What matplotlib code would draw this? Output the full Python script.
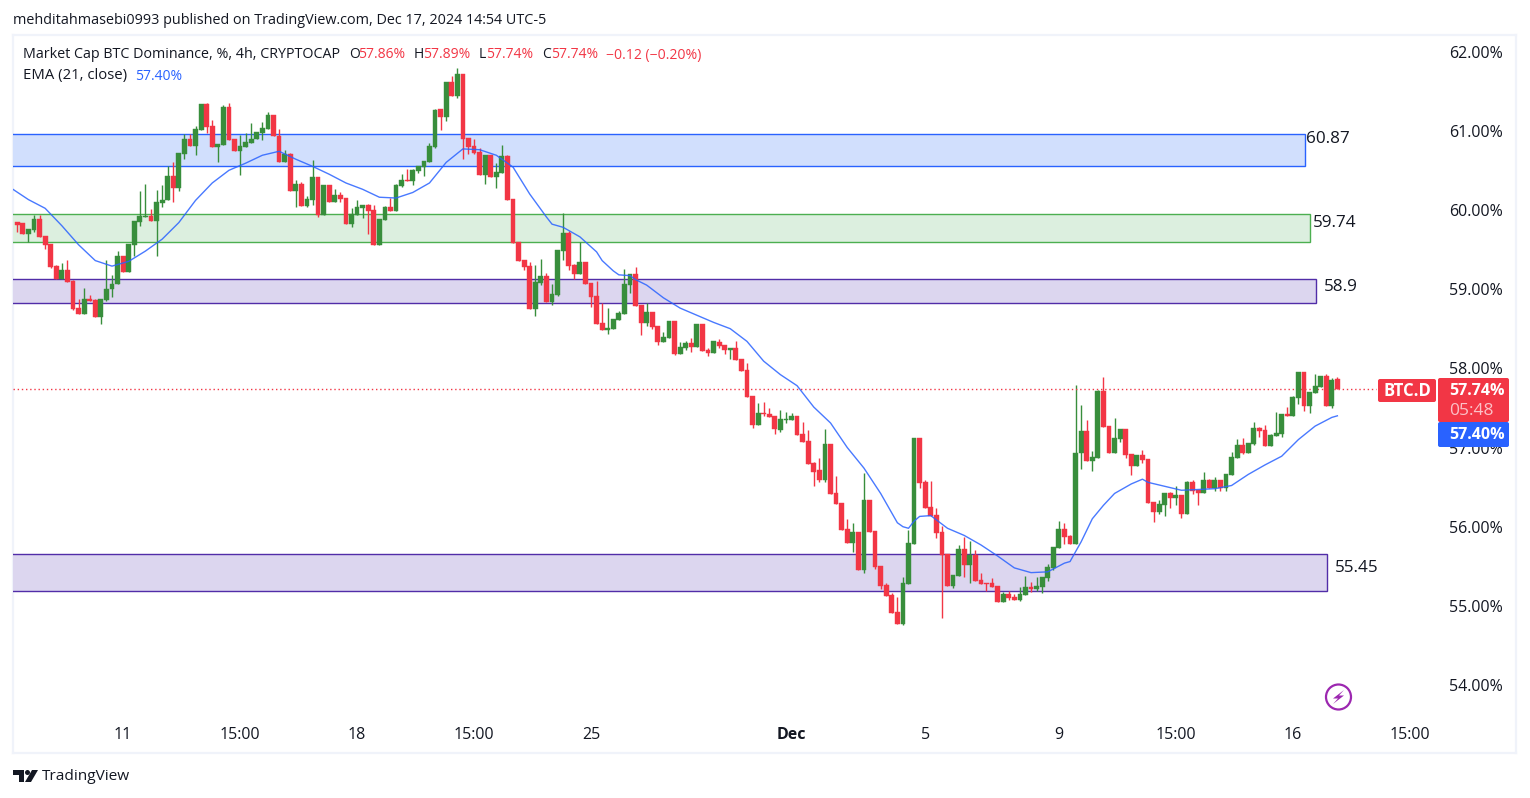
"""Market cap BTC dominance, 4h candles with EMA and zones."""

import numpy as np
import matplotlib

matplotlib.use("Agg")
import matplotlib.pyplot as plt
from matplotlib.patches import Circle, FancyBboxPatch, Polygon, Rectangle
from matplotlib.transforms import Affine2D

opens = [
    59.85, 59.83, 59.70, 59.75, 59.89, 59.67, 59.57, 59.29, 59.13, 59.24,
    59.10, 58.76, 58.69, 58.87, 58.86, 58.65, 58.86, 59.00, 59.06, 59.42,
    59.21, 59.56, 59.85, 59.91, 59.92, 59.86, 60.09, 60.13, 60.43, 60.28,
    60.71, 60.90, 60.81, 61.01, 61.34, 61.06, 60.79, 60.82, 61.30, 60.90,
    60.74, 60.80, 60.85, 60.90, 60.97, 61.02, 61.20, 60.93, 60.61, 60.71,
    60.24, 60.33, 60.05,
    60.13, 60.42, 59.94, 60.31, 60.10, 60.19, 60.15, 59.82, 59.94, 60.02,
    60.06, 60.00, 59.56, 59.87, 60.04, 59.99, 60.30, 60.38, 60.37, 60.49,
    60.54, 60.60, 60.79, 61.27, 61.17, 61.62, 61.44, 61.72, 60.91, 60.81,
    60.73, 60.44, 60.69, 60.42, 60.47, 60.68, 60.14, 59.60, 59.37, 59.29,
    58.75, 59.08, 59.17, 58.84, 58.93, 59.48, 59.71, 59.30, 59.19, 59.34,
    59.08, 58.91,
    58.57, 58.48, 58.50, 58.61, 58.69, 59.05, 59.19, 58.80, 58.57, 58.71,
    58.53, 58.33, 58.38, 58.60, 58.18, 58.26, 58.32, 58.27, 58.56, 58.23,
    58.19, 58.33, 58.29, 58.23, 58.26, 58.12, 57.98, 57.65, 57.28, 57.43,
    57.42, 57.40, 57.22, 57.35, 57.35, 57.40, 57.17, 57.08,
    56.80, 56.72, 56.59, 57.04, 56.43, 56.30, 55.97, 55.79, 55.93, 55.45,
    56.34, 55.95, 55.50, 55.26, 55.14, 54.92, 54.77, 55.28, 55.78, 57.12,
    56.56, 56.25, 56.15, 55.93, 55.66, 55.25, 55.38, 55.72, 55.52, 55.64,
    55.33, 55.29, 55.29, 55.25, 55.05, 55.15, 55.11, 55.07, 55.14, 55.24,
    55.21, 55.24, 55.35, 55.48, 55.73, 55.97, 55.88, 55.78,
    56.93, 57.21, 56.83, 56.87, 57.71, 57.27, 56.93, 57.11, 57.23, 56.92,
    56.77, 56.91, 56.85, 56.31, 56.19, 56.27, 56.43, 56.36, 56.40, 56.16,
    56.57, 56.46, 56.43, 56.59, 56.49, 56.59, 56.49, 56.65, 56.87, 57.03,
    56.93, 57.04, 57.25, 57.22, 57.02, 57.15, 57.17, 57.42, 57.40, 57.63,
    57.95, 57.52, 57.69, 57.76, 57.90, 57.52, 57.86,
]
highs = [
    59.85, 59.83, 59.76, 59.94, 59.93, 59.67, 59.57, 59.30, 59.33, 59.37,
    59.11, 58.87, 59.01, 58.93, 58.88, 58.87, 59.37, 59.18, 59.48, 59.42,
    59.57, 59.86, 60.24, 60.33, 60.01, 60.25, 60.31, 60.55, 60.61, 60.72,
    60.96, 60.96, 61.06, 61.34, 61.35, 61.14, 60.83, 61.33, 61.35, 60.90,
    60.95, 60.97, 61.10, 60.98, 61.11, 61.24, 61.20, 61.02, 60.76, 60.72,
    60.38, 60.35, 60.17,
    60.63, 60.42, 60.31, 60.31, 60.27, 60.23, 60.15, 60.02, 60.13, 60.06,
    60.08, 60.06, 59.89, 60.05, 60.15, 60.33, 60.45, 60.52, 60.52, 60.56,
    60.62, 60.84, 61.27, 61.27, 61.62, 61.69, 61.79, 61.72, 60.91, 60.90,
    60.78, 60.69, 60.69, 60.59, 60.82, 60.69, 60.14, 59.60, 59.37, 59.34,
    59.30, 59.38, 59.20, 59.07, 59.49, 59.96, 59.73, 59.32, 59.60, 59.34,
    59.08, 59.10,
    58.82, 58.76, 58.62, 58.72, 59.25, 59.19, 59.28, 58.80, 58.82, 58.71,
    58.53, 58.46, 58.60, 58.60, 58.33, 58.34, 58.38, 58.56, 58.56, 58.26,
    58.34, 58.37, 58.29, 58.26, 58.34, 58.12, 58.07, 57.65, 57.56, 57.57,
    57.50, 57.40, 57.47, 57.45, 57.43, 57.40, 57.32, 57.22,
    56.82, 56.87, 57.23, 57.04, 56.64, 56.30, 56.10, 56.05, 55.93, 56.68,
    56.34, 55.95, 55.50, 55.29, 55.16, 55.11, 55.37, 55.96, 57.12, 57.12,
    56.59, 56.58, 56.24, 56.01, 55.66, 55.39, 55.77, 55.87, 55.82, 55.71,
    55.42, 55.29, 55.35, 55.25, 55.18, 55.19, 55.15, 55.24, 55.38, 55.30,
    55.37, 55.37, 55.53, 55.74, 56.07, 56.05, 55.90, 57.79,
    57.54, 57.35, 56.96, 57.73, 57.89, 57.27, 57.37, 57.23, 57.23, 56.92,
    56.91, 56.97, 56.85, 56.31, 56.34, 56.43, 56.44, 56.51, 56.40, 56.58,
    56.59, 56.46, 56.69, 56.60, 56.63, 56.59, 56.67, 56.94, 57.11, 57.12,
    57.06, 57.32, 57.26, 57.29, 57.17, 57.45, 57.42, 57.51, 57.65, 57.95,
    57.95, 57.70, 57.93, 57.90, 57.93, 57.88, 57.89,
]
lows = [
    59.72, 59.70, 59.59, 59.72, 59.66, 59.51, 59.27, 59.13, 59.13, 59.09,
    58.74, 58.69, 58.69, 58.85, 58.65, 58.56, 58.85, 58.90, 59.06, 59.21,
    59.21, 59.42, 59.80, 59.91, 59.86, 59.42, 60.04, 60.13, 60.10, 60.24,
    60.64, 60.81, 60.69, 61.01, 60.97, 60.79, 60.61, 60.82, 60.88, 60.74,
    60.44, 60.80, 60.85, 60.90, 60.88, 61.02, 60.93, 60.61, 60.61, 60.24,
    60.04, 60.05, 60.04,
    60.06, 59.91, 59.94, 60.10, 60.10, 60.10, 59.82, 59.79, 59.94, 59.90,
    59.70, 59.56, 59.56, 59.87, 59.99, 59.99, 60.29, 60.37, 60.31, 60.47,
    60.43, 60.60, 60.78, 61.01, 61.12, 61.44, 61.41, 60.64, 60.71, 60.71,
    60.44, 60.33, 60.42, 60.28, 60.47, 60.13, 59.58, 59.36, 59.24, 58.75,
    58.66, 59.05, 58.84, 58.80, 58.91, 59.37, 59.24, 59.13, 59.19, 59.07,
    58.77, 58.56,
    58.48, 58.43, 58.50, 58.61, 58.69, 58.95, 58.79, 58.42, 58.53, 58.50,
    58.29, 58.33, 58.38, 58.17, 58.18, 58.23, 58.21, 58.27, 58.22, 58.16,
    58.19, 58.26, 58.18, 58.12, 58.11, 57.97, 57.64, 57.25, 57.28, 57.40,
    57.39, 57.17, 57.20, 57.31, 57.35, 57.16, 57.07, 56.79,
    56.51, 56.57, 56.57, 56.41, 56.29, 55.96, 55.79, 55.68, 55.45, 55.42,
    55.93, 55.47, 55.21, 55.13, 54.91, 54.77, 54.76, 55.28, 55.78, 56.49,
    56.24, 56.14, 55.86, 54.85, 55.25, 55.23, 55.38, 55.37, 55.29, 55.31,
    55.28, 55.19, 55.24, 55.05, 55.05, 55.07, 55.07, 55.06, 55.14, 55.18,
    55.19, 55.16, 55.31, 55.45, 55.73, 55.78, 55.78, 55.78,
    56.73, 56.83, 56.70, 56.87, 57.26, 56.93, 56.93, 57.07, 56.87, 56.65,
    56.77, 56.80, 56.30, 56.06, 56.16, 56.14, 56.24, 56.27, 56.11, 56.16,
    56.41, 56.27, 56.43, 56.49, 56.45, 56.45, 56.45, 56.65, 56.87, 56.92,
    56.93, 57.03, 57.13, 57.02, 57.02, 57.15, 57.13, 57.40, 57.40, 57.55,
    57.46, 57.44, 57.69, 57.76, 57.52, 57.50, 57.74,
]
closes = [
    59.81, 59.70, 59.76, 59.89, 59.66, 59.56, 59.28, 59.13, 59.24, 59.09,
    58.75, 58.69, 58.87, 58.85, 58.65, 58.87, 59.00, 59.07, 59.42, 59.21,
    59.57, 59.86, 59.92, 59.92, 59.86, 60.10, 60.13, 60.43, 60.28, 60.72,
    60.90, 60.81, 61.02, 61.34, 61.05, 60.79, 60.83, 61.30, 60.88, 60.74,
    60.81, 60.86, 60.90, 60.98, 61.03, 61.20, 60.93, 60.61, 60.71, 60.24,
    60.33, 60.05, 60.14,
    60.42, 59.94, 60.31, 60.10, 60.19, 60.14, 59.82, 59.95, 60.04, 60.06,
    59.99, 59.56, 59.89, 60.04, 59.99, 60.31, 60.38, 60.37, 60.50, 60.56,
    60.62, 60.81, 61.26, 61.17, 61.62, 61.44, 61.72, 60.90, 60.79, 60.72,
    60.44, 60.69, 60.42, 60.48, 60.68, 60.13, 59.58, 59.36, 59.28, 58.75,
    59.09, 59.17, 58.84, 58.94, 59.49, 59.71, 59.29, 59.19, 59.34, 59.07,
    58.90, 58.56,
    58.48, 58.51, 58.62, 58.70, 59.06, 59.19, 58.79, 58.57, 58.71, 58.52,
    58.33, 58.40, 58.60, 58.18, 58.27, 58.32, 58.27, 58.56, 58.22, 58.19,
    58.34, 58.28, 58.23, 58.26, 58.11, 57.97, 57.64, 57.28, 57.43, 57.42,
    57.39, 57.23, 57.36, 57.36, 57.40, 57.16, 57.07, 56.79,
    56.69, 56.59, 57.04, 56.41, 56.29, 55.96, 55.79, 55.93, 55.45, 56.34,
    55.93, 55.49, 55.25, 55.13, 54.91, 54.77, 55.29, 55.79, 57.12, 56.55,
    56.24, 56.14, 55.92, 55.64, 55.25, 55.39, 55.72, 55.52, 55.64, 55.31,
    55.28, 55.28, 55.24, 55.05, 55.15, 55.10, 55.07, 55.15, 55.24, 55.21,
    55.25, 55.37, 55.49, 55.74, 55.97, 55.87, 55.78, 56.93,
    57.21, 56.83, 56.88, 57.71, 57.26, 56.93, 57.12, 57.23, 56.91, 56.77,
    56.91, 56.84, 56.30, 56.19, 56.29, 56.43, 56.36, 56.40, 56.16, 56.57,
    56.45, 56.43, 56.59, 56.49, 56.59, 56.49, 56.67, 56.88, 57.03, 56.93,
    57.06, 57.25, 57.21, 57.02, 57.16, 57.18, 57.42, 57.40, 57.64, 57.95,
    57.52, 57.70, 57.78, 57.90, 57.52, 57.85, 57.74,
]

# EMA read about every third bar, closer where it turns sharply
ema_bars = [
    -1, 2, 5, 8, 11, 14, 17, 20, 23, 26, 29, 32, 35, 38, 41, 44, 47, 50, 53,
    56, 59, 62, 65, 68, 71, 74, 77, 80, 83, 86, 89, 92, 95, 96, 98, 101, 104, 105,
    107, 108, 110, 111, 113, 116, 119, 122, 125, 128, 131, 134, 137, 140, 143,
    146, 149, 152, 155, 158, 159, 160, 161, 162, 164, 167, 170, 173, 176, 179,
    182, 185, 188, 189, 191, 193, 195, 197, 200, 202, 203, 206, 209, 212, 215,
    218, 221, 224, 227, 230, 233, 236, 237,
]
ema_values = [
    60.27, 60.13, 60.02, 59.80, 59.56, 59.36, 59.29, 59.35, 59.48, 59.63,
    59.84, 60.12, 60.34, 60.50, 60.59, 60.69, 60.74, 60.64, 60.55, 60.45,
    60.34, 60.26, 60.16, 60.15, 60.22, 60.34, 60.60, 60.77, 60.76, 60.69,
    60.54, 60.20, 59.91, 59.82, 59.78, 59.66, 59.47, 59.36, 59.23, 59.18,
    59.17, 59.12, 59.05, 58.89, 58.76, 58.67, 58.58, 58.50, 58.34, 58.09,
    57.92, 57.78, 57.51, 57.31, 57.00, 56.74, 56.42, 56.05, 56.00, 55.98,
    56.07, 56.13, 56.14, 55.98, 55.89, 55.77, 55.63, 55.48, 55.42, 55.43,
    55.54, 55.56, 55.81, 56.10, 56.27, 56.42, 56.54, 56.60, 56.56, 56.51,
    56.46, 56.47, 56.48, 56.52, 56.66, 56.78, 56.89, 57.10, 57.27, 57.38,
    57.40,
]

# zones: top, bottom, last bar, label
zone_tops = [60.96, 59.95, 59.13, 55.66]
zone_bottoms = [60.56, 59.60, 58.83, 55.19]
zone_ends = [231.2, 232.1, 233.2, 235.1]
zone_labels = ["60.87", "59.74", "58.9", "55.45"]
zone_fills = ["#d1dffd", "#dcefdf", "#dcd6ef", "#dcd6ef"]
zone_edges = ["#2962ff", "#4caf50", "#512da8", "#512da8"]
zone_label_x = [1306, 1313, 1324, 1335]
zone_label_y = [139, 223, 287, 568]

price_ticks = [54, 55, 56, 57, 58, 59, 60, 61, 62]
time_ticks = [19, 40, 61, 82, 103, 139, 163, 187, 208, 229, 250]
time_labels = ["11", "15:00", "18", "15:00", "25", "Dec", "5", "9", "15:00", "16", "15:00"]
last_price = 57.74

RED = "#f23645"
GREEN = "#388e3c"
BLUE = "#2962ff"
INK = "#131722"
FRAME = "#f0f3fa"
FONT = "Open Sans"
W, H = 1530, 798

plt.rcParams["font.family"] = FONT
fig = plt.figure(figsize=(W / 100, H / 100), dpi=100, facecolor="white")
# pixels, origin at the top left
px = Affine2D().scale(1, -1).translate(0, H)

left, right, top, bottom = 13, 1516, 35, 753
ax = fig.add_axes([left / W, 1 - bottom / H, (right - left) / W, (bottom - top) / H])
ax.set_xlim((left - 17.3) / 5.57, (right - 17.3) / 5.57)
ax.set_ylim(62 - (bottom - 51.5) / 79.2, 62 - (top - 51.5) / 79.2)

for spine in ax.spines.values():
    spine.set_color(FRAME)
    spine.set_linewidth(1.6)
    spine.set_zorder(0.5)

# zones
x_start = ax.get_xlim()[0]
for y0, y1, end, fill, edge in zip(zone_tops, zone_bottoms, zone_ends, zone_fills, zone_edges):
    ax.add_patch(Rectangle((x_start - 2, y1), end - x_start + 2, y0 - y1,
                           facecolor=fill, edgecolor=edge, linewidth=1, zorder=1))
for text, x, y in zip(zone_labels, zone_label_x, zone_label_y):
    fig.text(x, y, text, transform=px, fontsize=12.3, color=INK, va="center", ha="left", zorder=5)

# candles
bars = np.arange(len(opens))
o = np.array(opens)
c = np.array(closes)
colors = [GREEN if close >= open_ else RED for open_, close in zip(opens, closes)]
ax.vlines(bars, lows, highs, colors=colors, linewidth=1, zorder=2)
ax.bar(bars, np.abs(c - o), bottom=np.minimum(o, c), width=0.86, color=colors,
       edgecolor=colors, linewidth=0.3, zorder=3)

ax.plot(ema_bars, ema_values, color=BLUE, linewidth=1, alpha=0.85, zorder=4)
ax.plot([x_start, 244], [last_price, last_price], color=RED, linewidth=1,
        linestyle=(0, (1, 2)), zorder=2)

# axes text
ax.set_yticks(price_ticks)
ax.set_yticklabels([f"{p:.2f}%" for p in price_ticks])
ax.yaxis.tick_right()
ax.tick_params(axis="y", length=0, pad=-67 * 0.72, labelsize=11.5, labelcolor=INK)
for label in ax.get_yticklabels():
    label.set_horizontalalignment("left")
ax.set_xticks(time_ticks)
ax.set_xticklabels(time_labels)
ax.tick_params(axis="x", length=0, pad=-26 * 0.72, labelsize=11.5, labelcolor=INK)
ax.get_xticklabels()[5].set_fontweight("bold")

# header and legend
fig.text(13, 20.5, "mehditahmasebi0993 published on TradingView.com, Dec 17, 2024 14:54 UTC-5",
         transform=px, fontsize=10.35, color=INK, va="center")
fig.text(23, 55, "Market Cap BTC Dominance, %, 4h, CRYPTOCAP", transform=px, fontsize=10.3,
         color=INK, va="center")
fig.text(23, 76, "EMA (21, close)", transform=px, fontsize=10.7, color=INK, va="center")
fig.text(135, 76, "57.40%", transform=px, fontsize=10, color=BLUE, va="center")
for letter, value, x in [("O", "57.86%", 349), ("H", "57.89%", 414), ("L", "57.74%", 479),
                         ("C", "57.74%", 542)]:
    fig.text(x, 55, letter, transform=px, fontsize=10, color=INK, va="center")
    fig.text(x + (7 if letter == "L" else 9), 55, value, transform=px, fontsize=10, color=RED,
             va="center")
fig.text(606, 55, "\u22120.12 (\u22120.20%)", transform=px, fontsize=10.1, color=RED, va="center")

# price labels on the right
fig.add_artist(FancyBboxPatch((1378, 379), 58, 23, boxstyle="round,pad=0,rounding_size=2",
                              transform=px, facecolor=RED, edgecolor="none", zorder=4))
fig.add_artist(FancyBboxPatch((1438, 378), 71, 44, boxstyle="round,pad=0,rounding_size=2",
                              transform=px, facecolor=RED, edgecolor="none", zorder=4))
fig.add_artist(FancyBboxPatch((1438, 422), 71, 25, boxstyle="round,pad=0,rounding_size=2",
                              transform=px, facecolor=BLUE, edgecolor="none", zorder=4))
fig.text(1407, 391, "BTC.D", transform=px, fontsize=12, fontweight="bold", color="white",
         ha="center", va="center", zorder=5)
fig.text(1477, 391, "57.74%", transform=px, fontsize=11.5, fontweight="bold", color="white",
         ha="center", va="center", zorder=5)
fig.text(1471, 411, "05:48", transform=px, fontsize=12.5, color="#fbc1c7",
         ha="center", va="center", zorder=5)
fig.text(1477, 435, "57.40%", transform=px, fontsize=11.5, fontweight="bold", color="white",
         ha="center", va="center", zorder=5)

# lightning badge
fig.add_artist(Circle((1338.5, 697), 12.5, transform=px, facecolor="white",
                      edgecolor="#9c27b0", linewidth=1.6, zorder=4))
fig.add_artist(Polygon([(1344, 690), (1333, 698.5), (1338, 698.5), (1333, 704), (1344, 695.5),
                        (1339, 695.5)], transform=px, facecolor="#9c27b0", edgecolor="none",
                       zorder=5))

# TradingView logo
fig.add_artist(Polygon([(13, 770), (24, 770), (24, 782), (19, 782), (19, 775), (13, 775)],
                       transform=px, facecolor=INK, edgecolor="none", zorder=4))
fig.add_artist(Circle((27.5, 772.5), 2.5, transform=px, facecolor=INK, edgecolor="none", zorder=4))
fig.add_artist(Polygon([(32, 770), (38, 770), (31, 782), (25, 782)], transform=px,
                       facecolor=INK, edgecolor="none", zorder=4))
fig.text(42, 777, "TradingView", transform=px, fontsize=11.1, color=INK, va="center", zorder=5)

fig.savefig("out.png", dpi=100)
